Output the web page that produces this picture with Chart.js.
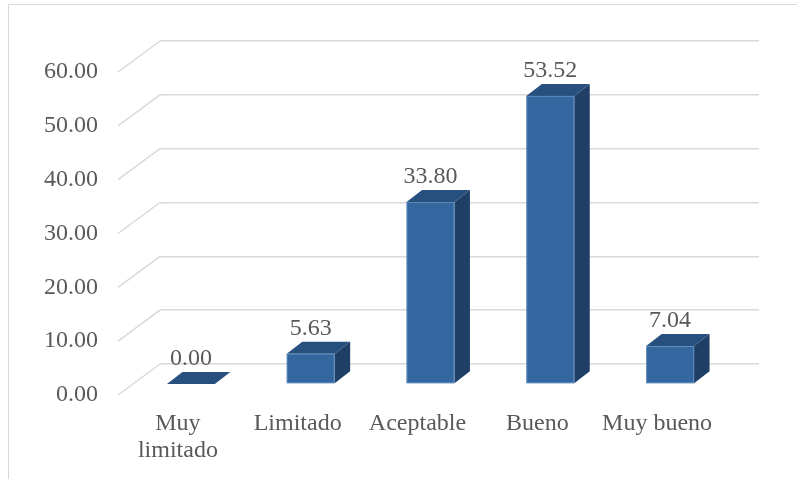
<!DOCTYPE html>
<html>
<head>
<meta charset="utf-8">
<script src="https://cdn.jsdelivr.net/npm/chart.js@4.4.1/dist/chart.umd.min.js"></script>
<style>
  html, body { margin: 0; padding: 0; background: #ffffff; overflow: hidden; }
  #frame {
    position: absolute; left: 8px; top: 4px; width: 820px; height: 500px;
    border: 1px solid #d9d9d9; box-sizing: border-box;
  }
  #wrap { position: absolute; left: 0; top: 0; width: 797px; height: 479px; }
</style>
</head>
<body>
<div id="frame"></div>
<div id="wrap"><canvas id="c" width="797" height="479"></canvas></div>
<script>
// Categories and values of the rating distribution (%)
const categories = [['Muy', 'limitado'], 'Limitado', 'Aceptable', 'Bueno', 'Muy bueno'];
const values = [0.00, 5.63, 33.80, 53.52, 7.04];
const yMin = 0;
const yMax = 60;
const yStep = 10;

// Oblique projection used for the 3-D look
const WALL_DX = 42, WALL_DY = 31;     // front edge of the floor relative to the back wall
const FACE_DX = -29, FACE_DY = 20;    // front face of the columns relative to the back wall
const DEPTH_DX = 15.5, DEPTH_DY = -12; // column depth

const FONT = '"Times New Roman", "Liberation Serif", Tinos, "DejaVu Serif", "Noto Serif", serif';
const FONT_SIZE = 24;
const TEXT_COLOR = '#595959';
const GRID_COLOR = '#d9d9d9';
const FRONT = '#3467a0';
const TOP = '#28507f';
const SIDE = '#1f3f66';

const sideWallGrid = {
  id: 'sideWallGrid',
  beforeDatasetsDraw(chart) {
    const { ctx, chartArea } = chart;
    const ys = chart.scales.y;
    ctx.save();
    ctx.strokeStyle = GRID_COLOR;
    ctx.lineWidth = 1.5;
    ys.ticks.forEach(t => {
      const py = ys.getPixelForValue(t.value);
      ctx.beginPath();
      ctx.moveTo(chartArea.left - WALL_DX, py + WALL_DY);
      ctx.lineTo(chartArea.left, py);
      ctx.stroke();
    });
    ctx.restore();
  }
};

const columns3d = {
  id: 'columns3d',
  afterDatasetsDraw(chart) {
    const { ctx } = chart;
    const meta = chart.getDatasetMeta(0);
    ctx.save();
    meta.data.forEach((el, i) => {
      const p = el.getProps(['x', 'y', 'base', 'width'], true);
      const l = p.x - p.width / 2 + FACE_DX;
      const r = p.x + p.width / 2 + FACE_DX;
      const t = p.y + FACE_DY;
      const b = p.base + FACE_DY;
      // side face
      ctx.fillStyle = SIDE;
      ctx.beginPath();
      ctx.moveTo(r, t); ctx.lineTo(r + DEPTH_DX, t + DEPTH_DY);
      ctx.lineTo(r + DEPTH_DX, b + DEPTH_DY); ctx.lineTo(r, b);
      ctx.closePath(); ctx.fill();
      // top face
      ctx.fillStyle = TOP;
      ctx.beginPath();
      ctx.moveTo(l, t); ctx.lineTo(l + DEPTH_DX, t + DEPTH_DY);
      ctx.lineTo(r + DEPTH_DX, t + DEPTH_DY); ctx.lineTo(r, t);
      ctx.closePath(); ctx.fill();
      // front face
      if (b - t > 0.5) {
        ctx.fillStyle = FRONT;
        ctx.fillRect(l, t, r - l, b - t);
        ctx.strokeStyle = 'rgba(120,160,205,0.6)';
        ctx.lineWidth = 1;
        ctx.strokeRect(l + 0.5, t + 0.5, r - l - 1, b - t - 1);
      }
      // value label
      ctx.fillStyle = TEXT_COLOR;
      ctx.font = FONT_SIZE + 'px ' + FONT;
      ctx.textAlign = 'center';
      ctx.textBaseline = 'middle';
      ctx.fillText(values[i].toFixed(2), (l + r) / 2, t - 25);
    });
    ctx.restore();
  }
};

function build() {
  new Chart(document.getElementById('c'), {
    type: 'bar',
    data: {
      labels: categories,
      datasets: [{
        data: values,
        backgroundColor: 'rgba(0,0,0,0)',
        borderWidth: 0,
        categoryPercentage: 1,
        barPercentage: 0.4
      }]
    },
    options: {
      responsive: false,
      animation: false,
      devicePixelRatio: 1,
      layout: { padding: { left: 0, right: 38, top: 41, bottom: 0 } },
      plugins: { legend: { display: false }, tooltip: { enabled: false } },
      scales: {
        x: {
          grid: { display: false, drawTicks: false },
          border: { display: false },
          afterFit(s) { s.height = 115; s.paddingLeft = 0; s.paddingRight = 0; },
          ticks: {
            color: TEXT_COLOR,
            font: { family: FONT, size: FONT_SIZE, lineHeight: 1.1 },
            padding: 47,
            labelOffset: -WALL_DX,
            maxRotation: 0,
            autoSkip: false
          }
        },
        y: {
          min: yMin,
          max: yMax,
          grid: { color: GRID_COLOR, lineWidth: 1.5, drawTicks: false },
          border: { display: false },
          afterFit(s) { s.width = 160; s.paddingTop = 0; s.paddingBottom = 0; },
          ticks: {
            stepSize: yStep,
            color: TEXT_COLOR,
            font: { family: FONT, size: FONT_SIZE },
            padding: 62,
            labelOffset: WALL_DY,
            callback: v => Number(v).toFixed(2)
          }
        }
      }
    },
    plugins: [sideWallGrid, columns3d]
  });
}

if (document.fonts && document.fonts.load) {
  Promise.all([
    document.fonts.load(FONT_SIZE + 'px "Liberation Serif"'),
    document.fonts.load(FONT_SIZE + 'px "Times New Roman"')
  ]).then(build, build);
} else {
  build();
}
</script>
</body>
</html>
